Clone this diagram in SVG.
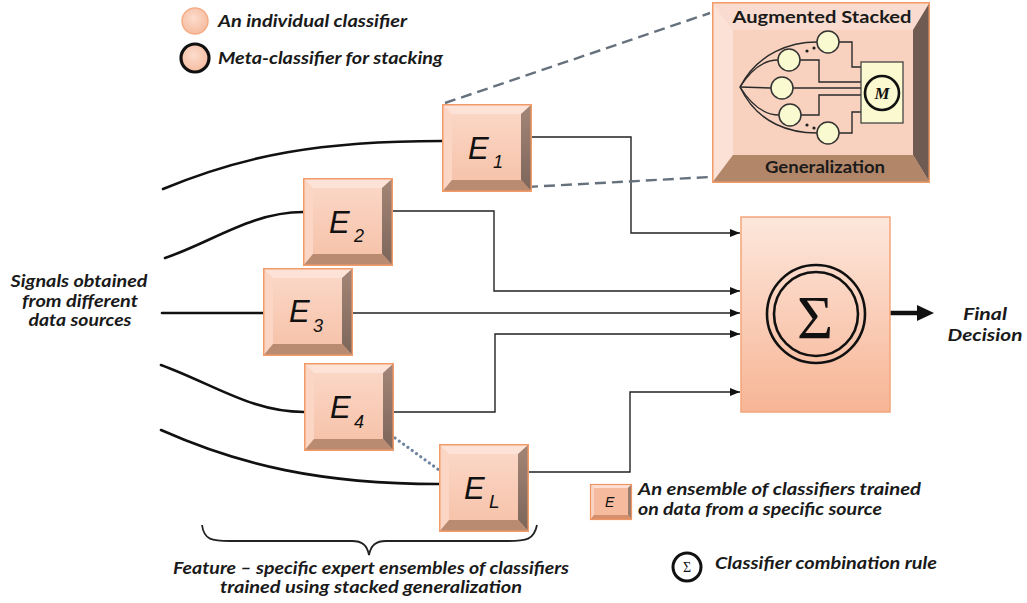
<svg xmlns="http://www.w3.org/2000/svg" xmlns:xlink="http://www.w3.org/1999/xlink" width="1027" height="603" viewBox="0 0 1027 603">
  <style>
    .lbl { font-family: Lato, "Open Sans", "Liberation Sans", sans-serif; font-weight: bold; font-style: italic; font-size: 17px; fill: #1a1a1a; }
    .hdr { font-family: Lato, "Open Sans", "Liberation Sans", sans-serif; font-weight: bold; font-size: 17px; fill: #1a1a1a; }
    .ek { font-family: "Liberation Sans", Arial, sans-serif; font-style: italic; fill: #111; }
    .wire { fill: none; stroke: #222; stroke-width: 1.4; }
    .feed { fill: none; stroke: #111; stroke-width: 2.6; stroke-linecap: round; }
    .net { fill: none; stroke: #2a2a2a; stroke-width: 1.4; }
    .node { fill: #fafad0; stroke: #333; stroke-width: 1.5; }
  </style>
  <defs>
    <marker id="ah" viewBox="0 0 10 8" refX="10" refY="4" markerWidth="10" markerHeight="8" markerUnits="userSpaceOnUse" orient="auto">
      <path d="M0,0 L10,4 L0,8 Z" fill="#111"/>
    </marker>
    <linearGradient id="sumFill" x1="0" y1="0" x2="0" y2="1">
      <stop offset="0" stop-color="#fde7dc"/>
      <stop offset="1" stop-color="#f7b595"/>
    </linearGradient>
    <linearGradient id="faceFill" x1="0" y1="0" x2="0" y2="1">
      <stop offset="0" stop-color="#fbd9c9"/>
      <stop offset="1" stop-color="#f6c0a6"/>
    </linearGradient>
    <linearGradient id="sideFill" x1="0" y1="0" x2="0" y2="1">
      <stop offset="0" stop-color="#a38677"/>
      <stop offset="1" stop-color="#7d655a"/>
    </linearGradient>
    <radialGradient id="dotFill" cx="0.45" cy="0.4" r="0.6">
      <stop offset="0" stop-color="#fcdccd"/>
      <stop offset="1" stop-color="#f6bc9f"/>
    </radialGradient>
    <!-- bevelled key used for every ensemble -->
    <symbol id="key" viewBox="0 0 90 88">
      <rect x="0" y="0" width="90" height="88" fill="url(#faceFill)"/>
      <path d="M0,0 L90,0 L79,10 L10,10 Z" fill="#fde3d7"/>
      <path d="M0,0 L10,10 L10,76 L0,88 Z" fill="#fbd6c5"/>
      <path d="M90,0 L90,88 L79,76 L79,10 Z" fill="url(#sideFill)"/>
      <path d="M0,88 L90,88 L79,76 L10,76 Z" fill="#b98b70"/>
      <rect x="0.75" y="0.75" width="88.5" height="86.5" fill="none" stroke="#f29a68" stroke-width="1.5"/>
    </symbol>
  </defs>

  <rect width="1027" height="603" fill="#ffffff"/>

  <!-- legend: classifier symbols -->
  <g id="legend-top">
    <circle cx="195" cy="21" r="13" fill="url(#dotFill)" stroke="#f4ad86" stroke-width="1.5"/>
    <text class="lbl" x="218" y="27" textLength="189" lengthAdjust="spacingAndGlyphs">An individual classifier</text>
    <circle cx="195" cy="58" r="14" fill="url(#dotFill)" stroke="#111" stroke-width="3.2"/>
    <text class="lbl" x="218" y="64" textLength="225" lengthAdjust="spacingAndGlyphs">Meta-classifier for stacking</text>
  </g>

  <!-- input signals label -->
  <g id="signals">
    <text class="lbl" text-anchor="middle" x="79" y="287" textLength="137" lengthAdjust="spacingAndGlyphs">Signals obtained</text>
    <text class="lbl" text-anchor="middle" x="80" y="307" textLength="116" lengthAdjust="spacingAndGlyphs">from different</text>
    <text class="lbl" text-anchor="middle" x="80" y="326" textLength="103" lengthAdjust="spacingAndGlyphs">data sources</text>
  </g>

  <!-- connectors -->
  <g id="connectors">
    <!-- signal feeds into each ensemble -->
    <path class="feed" d="M163,189 C245,155 320,141 442,141"/>
    <path class="feed" d="M165,258 C212,242 252,212 303,212"/>
    <path class="feed" d="M162,313 L263,313"/>
    <path class="feed" d="M161,365 C215,385 252,412 304,412"/>
    <path class="feed" d="M161,430 C240,465 320,484 439,484"/>
    <!-- ensemble outputs to the combiner -->
    <path class="wire" d="M531,137 L631,137 L631,233 L740,233" marker-end="url(#ah)"/>
    <path class="wire" d="M392,211 L494,211 L494,291 L740,291" marker-end="url(#ah)"/>
    <path class="wire" d="M353,313 L740,313" marker-end="url(#ah)"/>
    <path class="wire" d="M394,412 L495,412 L495,334 L740,334" marker-end="url(#ah)"/>
    <path class="wire" d="M529,472 L630,472 L630,392 L740,392" marker-end="url(#ah)"/>
    <!-- ellipsis between E4 and EL -->
    <path d="M395,438 L439,470" fill="none" stroke="#6f84a0" stroke-width="3.2" stroke-linecap="round" stroke-dasharray="0.1,5.2"/>
    <!-- zoom-out guides to the stacked generalization detail -->
    <path d="M445,103 L710,13" fill="none" stroke="#66717e" stroke-width="2.4" stroke-dasharray="11,6"/>
    <path d="M527,187 L710,177" fill="none" stroke="#66717e" stroke-width="2.4" stroke-dasharray="11,6"/>
    <!-- final decision arrow -->
    <path d="M890,313 L920,313" stroke="#111" stroke-width="4.5" fill="none"/>
    <path d="M917,305 L934,313 L917,321 Z" fill="#111"/>
  </g>

  <!-- ensembles -->
  <g id="E1">
    <use href="#key" x="442" y="104" width="90" height="88"/>
    <text class="ek" x="468" y="159" font-size="31">E</text>
    <text class="ek" x="493" y="168" font-size="18" font-style="normal">1</text>
  </g>
  <g id="E2">
    <use href="#key" x="303" y="178" width="90" height="88"/>
    <text class="ek" x="329" y="233" font-size="31">E</text>
    <text class="ek" x="354" y="242" font-size="18" font-style="normal">2</text>
  </g>
  <g id="E3">
    <use href="#key" x="263" y="268" width="90" height="88"/>
    <text class="ek" x="289" y="322" font-size="31">E</text>
    <text class="ek" x="313" y="332" font-size="18" font-style="normal">3</text>
  </g>
  <g id="E4">
    <use href="#key" x="304" y="363" width="90" height="88"/>
    <text class="ek" x="330" y="418" font-size="31">E</text>
    <text class="ek" x="354" y="428" font-size="18" font-style="normal">4</text>
  </g>
  <g id="EL">
    <use href="#key" x="439" y="444" width="90" height="88"/>
    <text class="ek" x="464" y="499" font-size="31">E</text>
    <text class="ek" x="489" y="508" font-size="19">L</text>
  </g>

  <!-- combiner -->
  <g id="combiner">
    <rect x="741" y="217" width="149" height="195" fill="url(#sumFill)" stroke="#f4a57a" stroke-width="1.5"/>
    <circle cx="816" cy="314" r="49" fill="none" stroke="#111" stroke-width="2.6"/>
    <circle cx="816" cy="314" r="42" fill="none" stroke="#111" stroke-width="2.6"/>
    <text x="815" y="338" text-anchor="middle" font-family="'Liberation Serif', 'DejaVu Serif', serif" font-size="62" fill="#111">Σ</text>
  </g>

  <g id="final">
    <text class="lbl" x="985" y="320" text-anchor="middle" textLength="44" lengthAdjust="spacingAndGlyphs">Final</text>
    <text class="lbl" x="985" y="341" text-anchor="middle" textLength="75" lengthAdjust="spacingAndGlyphs">Decision</text>
  </g>

  <!-- stacked generalization detail -->
  <g id="augmented">
    <rect x="712" y="2" width="218" height="181" fill="#f8cdb9"/>
    <path d="M712,2 L930,2 L913,30 L733,30 Z" fill="#f9dccf"/>
    <path d="M712,2 L733,30 L733,155 L712,183 Z" fill="#fbe1d6"/>
    <path d="M930,2 L930,183 L913,155 L913,30 Z" fill="#6f5b51"/>
    <path d="M712,183 L930,183 L913,155 L733,155 Z" fill="#b28669"/>
    <rect x="733" y="30" width="180" height="125" fill="#f9d2bf"/>
    <rect x="712.75" y="2.75" width="216.5" height="179.5" fill="none" stroke="#f29a68" stroke-width="1.5"/>
    <text class="hdr" x="822" y="23" text-anchor="middle" textLength="179" lengthAdjust="spacingAndGlyphs">Augmented Stacked</text>
    <text class="hdr" x="825" y="173" text-anchor="middle" textLength="120" lengthAdjust="spacingAndGlyphs">Generalization</text>

    <!-- fan-out from the shared input -->
    <path class="net" stroke-width="2.4" d="M740,87 C758,52 792,42 817,42"/>
    <path class="net" stroke-width="2.4" d="M740,87 C758,125 792,133 817,133"/>
    <path class="net" stroke-width="2" d="M740,87 C752,68 764,60 778,60"/>
    <path class="net" stroke-width="2" d="M740,87 C752,106 764,115 779,115"/>
    <path class="net" stroke-width="2" d="M740,87 L771,88"/>

    <!-- base learners to meta learner -->
    <path class="net" d="M839,42 L852,42 L852,67 L861,67"/>
    <path class="net" d="M800,60 L819,60 L819,82 L861,82"/>
    <path class="net" d="M793,88 L861,88"/>
    <path class="net" d="M801,115 L819,115 L819,95 L861,95"/>
    <path class="net" d="M839,133 L852,133 L852,112 L861,112"/>

    <circle class="node" cx="828" cy="42" r="11"/>
    <circle class="node" cx="789" cy="60" r="11"/>
    <circle class="node" cx="782" cy="88" r="11"/>
    <circle class="node" cx="790" cy="115" r="11"/>
    <circle class="node" cx="828" cy="133" r="11"/>

    <circle cx="807" cy="51" r="1.6" fill="#222"/>
    <circle cx="814" cy="48" r="1.6" fill="#222"/>
    <circle cx="807" cy="125" r="1.6" fill="#222"/>
    <circle cx="814" cy="128" r="1.6" fill="#222"/>

    <rect x="861" y="62" width="42" height="61" fill="#fbf9cf" stroke="#444" stroke-width="1.3"/>
    <circle cx="882" cy="93" r="17" fill="none" stroke="#111" stroke-width="2.6"/>
    <text x="882" y="99" text-anchor="middle" font-family="'Liberation Serif', serif" font-weight="bold" font-style="italic" font-size="17" fill="#111">M</text>
  </g>

  <!-- legend: ensemble and combination rule -->
  <g id="legend-bottom">
    <g>
      <rect x="590" y="484" width="42" height="36" fill="#f6bb9f"/>
      <path d="M590,484 L632,484 L628,488 L594,488 Z" fill="#fde0d3"/>
      <path d="M590,484 L594,488 L594,515 L590,520 Z" fill="#fbd3c1"/>
      <path d="M632,484 L632,520 L628,515 L628,488 Z" fill="#9a7c6c"/>
      <path d="M590,520 L632,520 L628,515 L594,515 Z" fill="#d58f6b"/>
      <rect x="590.5" y="484.5" width="41" height="35" fill="none" stroke="#ef9563" stroke-width="1.2"/>
      <text class="ek" x="605" y="507" font-size="14">E</text>
    </g>
    <text class="lbl" x="638" y="495" textLength="283" lengthAdjust="spacingAndGlyphs">An ensemble of classifiers trained</text>
    <text class="lbl" x="638" y="515" textLength="244" lengthAdjust="spacingAndGlyphs">on data from a specific source</text>
    <circle cx="687" cy="567" r="14" fill="#fff" stroke="#111" stroke-width="3"/>
    <text x="687" y="572" text-anchor="middle" font-family="'Liberation Serif', serif" font-size="14" fill="#111">Σ</text>
    <text class="lbl" x="715" y="569" textLength="222" lengthAdjust="spacingAndGlyphs">Classifier combination rule</text>
  </g>

  <!-- brace grouping the expert ensembles -->
  <g id="brace">
    <path d="M202,525 C204,540 212,541 230,541 L352,541 C362,541 367,545 369,555 C371,545 376,541 386,541 L508,541 C526,541 534,540 537,525" fill="none" stroke="#222" stroke-width="1.8"/>
    <text class="lbl" x="371" y="574" text-anchor="middle" font-size="16" textLength="396" lengthAdjust="spacingAndGlyphs">Feature – specific expert ensembles of classifiers</text>
    <text class="lbl" x="371" y="593" text-anchor="middle" font-size="16" textLength="302" lengthAdjust="spacingAndGlyphs">trained using stacked generalization</text>
  </g>
</svg>
